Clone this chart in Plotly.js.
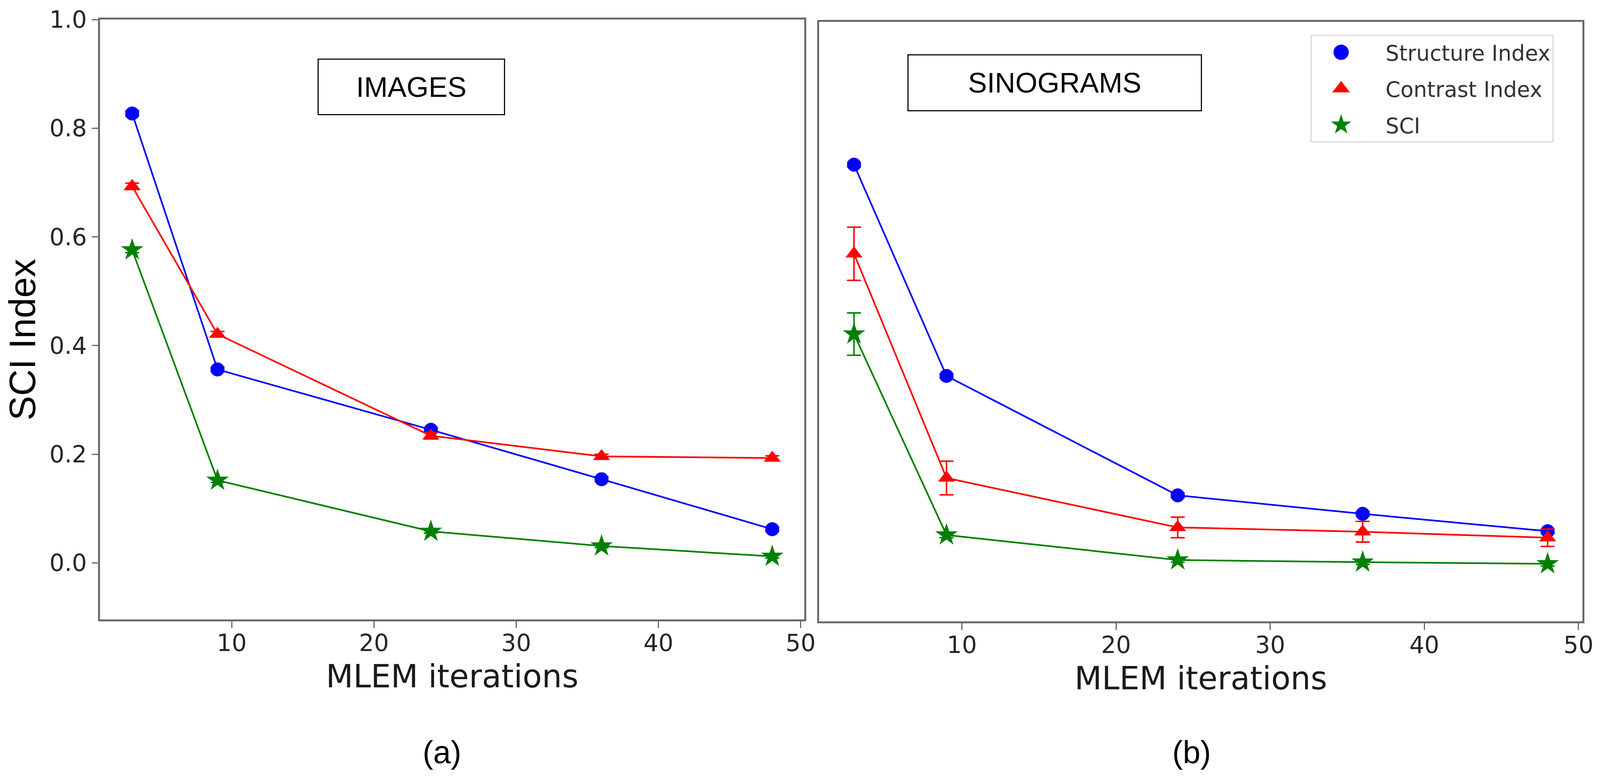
<!DOCTYPE html>
<html>
<head>
<meta charset="utf-8">
<script src="https://cdn.plot.ly/plotly-3.0.1.min.js"></script>
<style>
  html, body { margin: 0; padding: 0; background: #fff; overflow: hidden; }
</style>
</head>
<body>
<div id="chart"></div>
<script>
// MLEM iteration counts shared by both panels
const ITERATIONS = [3, 9, 24, 36, 48];

// (a) IMAGES
const IMG_STRUCTURE = [0.827, 0.356, 0.245, 0.154, 0.062];
const IMG_STRUCTURE_ERR = [0.005, 0.004, 0.004, 0.004, 0.004];
const IMG_CONTRAST = [0.693, 0.421, 0.234, 0.196, 0.193];
const IMG_CONTRAST_ERR = [0.006, 0.005, 0.006, 0.004, 0.004];
const IMG_SCI = [0.576, 0.152, 0.058, 0.031, 0.012];
const IMG_SCI_ERR = [0.005, 0.004, 0.003, 0.003, 0.003];

// (b) SINOGRAMS
const SINO_STRUCTURE = [0.737, 0.348, 0.128, 0.094, 0.062];
const SINO_STRUCTURE_ERR = [0.004, 0.004, 0.004, 0.004, 0.004];
const SINO_CONTRAST = [0.573, 0.160, 0.069, 0.061, 0.050];
const SINO_CONTRAST_ERR = [0.049, 0.031, 0.019, 0.019, 0.016];
const SINO_SCI = [0.425, 0.055, 0.009, 0.005, 0.002];
const SINO_SCI_ERR = [0.039, 0.005, 0.004, 0.004, 0.004];

const SERIES_NAMES = ["Structure Index", "Contrast Index", "SCI"];
const X_TICKS = [10, 20, 30, 40, 50];
const Y_TICKS = [0.0, 0.2, 0.4, 0.6, 0.8, 1.0];

// Layout was measured on a 4345x1987 canvas; scale to whatever the viewport is.
const REF_W = 4345, REF_H = 1987;
const W = window.innerWidth || REF_W;
const H = window.innerHeight || REF_H;
const S = Math.min(W / REF_W, H / REF_H);
const px = (v) => v * S;

const STYLES = [
  { color: "#0000ff", symbol: "circle", size: 38 },
  { color: "#ff0000", symbol: "triangle-up", size: 40 },
  { color: "#008000", symbol: "star", size: 46 },
];

function panelTraces(xa, ya, values, errors, withLegend) {
  const traces = [];
  values.forEach((ys, i) => {
    const st = STYLES[i];
    traces.push({
      type: "scatter", mode: "lines", x: ITERATIONS, y: ys,
      xaxis: xa, yaxis: ya, showlegend: false, hoverinfo: "skip",
      line: { color: st.color, width: px(4.5) },
    });
    traces.push({
      type: "scatter", mode: "markers", x: ITERATIONS, y: ys,
      xaxis: xa, yaxis: ya, name: SERIES_NAMES[i],
      legendgroup: "g" + i, showlegend: withLegend,
      marker: { color: st.color, symbol: st.symbol, size: px(st.size), line: { width: 0 } },
      error_y: {
        type: "data", array: errors[i], visible: true,
        color: st.color, thickness: px(4), width: px(19),
      },
    });
  });
  return traces;
}

const data = [
  ...panelTraces("x", "y",
    [IMG_STRUCTURE, IMG_CONTRAST, IMG_SCI],
    [IMG_STRUCTURE_ERR, IMG_CONTRAST_ERR, IMG_SCI_ERR], false),
  ...panelTraces("x2", "y2",
    [SINO_STRUCTURE, SINO_CONTRAST, SINO_SCI],
    [SINO_STRUCTURE_ERR, SINO_CONTRAST_ERR, SINO_SCI_ERR], true),
];

const tickFont = { family: "DejaVu Sans", size: px(64), color: "#262626" };
const titleFont = { family: "DejaVu Sans", size: px(86), color: "#1a1a1a" };

function xAxis(domain, anchor) {
  return {
    domain, anchor, range: [0.75, 50.25],
    tickmode: "array", tickvals: X_TICKS, ticktext: X_TICKS.map(String),
    ticks: "outside", ticklen: px(18), tickwidth: px(3), tickcolor: "#666",
    ticklabelstandoff: -Math.round(px(14)),
    showline: true, mirror: true, linecolor: "#6a6a6a", linewidth: px(5),
    showgrid: false, zeroline: false, tickfont: tickFont,
    title: { text: "MLEM iterations", font: titleFont, standoff: px(26) },
  };
}

function yAxis(domain, anchor, labels) {
  return {
    domain, anchor, range: [-0.104, 1.0],
    tickmode: "array", tickvals: Y_TICKS, ticktext: Y_TICKS.map((v) => v.toFixed(1)),
    ticks: labels ? "outside" : "", ticklen: px(18), tickwidth: px(3), tickcolor: "#666",
    showticklabels: labels,
    showline: true, mirror: true, linecolor: "#6a6a6a", linewidth: px(5),
    showgrid: false, zeroline: false, tickfont: tickFont,
  };
}

function boxLabel(text, cx, cy, w, h) {
  return {
    xref: "paper", yref: "paper", x: cx / REF_W, y: 1 - cy / REF_H,
    xanchor: "center", yanchor: "middle", showarrow: false, text,
    font: { family: "Liberation Sans", size: px(77), color: "#000" },
    bordercolor: "#000", borderwidth: px(3), borderpad: 0, bgcolor: "#fff",
    width: w * W / REF_W, height: h * H / REF_H,
  };
}

function plainLabel(text, cx, cy, size, angle) {
  return {
    xref: "paper", yref: "paper", x: cx / REF_W, y: 1 - cy / REF_H,
    xanchor: "center", yanchor: "middle", showarrow: false, text,
    textangle: angle || 0,
    font: { family: "Liberation Sans", size: px(size), color: "#000" },
  };
}

const layout = {
  width: W, height: H,
  margin: { l: 0, r: 0, t: 0, b: 0 },
  paper_bgcolor: "#fff", plot_bgcolor: "#fff",
  xaxis: xAxis([272 / REF_W, 2184 / REF_W], "y"),
  yaxis: yAxis([1 - 1586 / REF_H, 1 - 50 / REF_H], "x", true),
  xaxis2: xAxis([2225 / REF_W, 4297 / REF_W], "y2"),
  yaxis2: yAxis([1 - 1591 / REF_H, 1 - 56 / REF_H], "x2", false),
  showlegend: true,
  legend: {
    x: 3559 / REF_W, y: 1 - 89 / REF_H, xanchor: "left", yanchor: "top",
    bgcolor: "#fff", bordercolor: "#d9d9d9", borderwidth: px(3),
    font: { family: "DejaVu Sans", size: px(58), color: "#333" },
    tracegroupgap: px(20), itemwidth: Math.max(30, px(190)),
  },
  annotations: [
    boxLabel("IMAGES", 1117, 222, 503, 139),
    boxLabel("SINOGRAMS", 2864, 212, 794, 140),
    plainLabel("SCI Index", 60, 870, 100, -90),
    plainLabel("(a)", 1200, 1926, 86),
    plainLabel("(b)", 3236, 1926, 86),
  ],
};

Plotly.newPlot("chart", data, layout, { displayModeBar: false, responsive: false })
  .then((gd) => {
    // Plotly caps legend glyphs at 16px; enlarge them and move them right to match the figure.
    gd.querySelectorAll(".legend .legendpoints path.scatterpts").forEach((p) => {
      p.setAttribute("transform", `translate(${px(80)},0) scale(${2.6 * Math.max(S, 0.4)})`);
    });
  });
</script>
</body>
</html>
